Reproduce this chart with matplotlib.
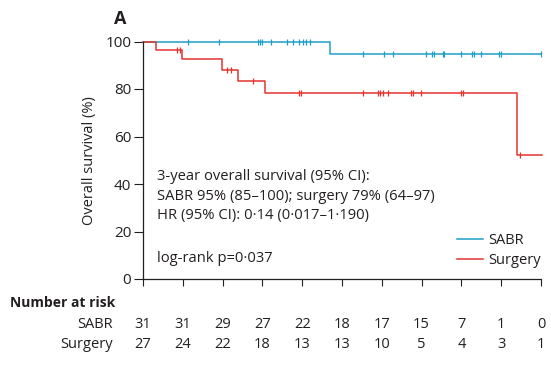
import numpy as np
import matplotlib
matplotlib.use("Agg")
import matplotlib.pyplot as plt

plt.rcParams["font.family"] = ["Open Sans", "DejaVu Sans"]

# --- data (months, survival %) ---------------------------------------------
sabr_t = [0, 28.2, 60.0]
sabr_s = [100, 94.8, 94.8]
sabr_cens = [6.8, 11.5, 17.3, 17.6, 17.9, 19.3, 21.7, 22.6, 23.5, 24.1, 24.6, 25.2,
             33.2, 36.3, 37.7, 42.7, 43.6, 43.9, 45.2, 45.4, 48.0, 49.6, 49.9,
             51.0, 53.7, 54.0, 60.0]

surg_t = [0, 2.0, 5.9, 11.9, 14.3, 18.4, 56.4, 60.1]
surg_s = [100, 96.3, 92.6, 88.0, 83.5, 78.5, 52.3, 52.3]
surg_cens = [5.1, 5.6, 12.7, 13.3, 16.6, 23.5, 23.8, 33.2, 35.4, 35.7, 36.2, 36.9,
             40.4, 40.7, 41.9, 48.0, 48.3, 56.9]

risk_times = [0, 6, 12, 18, 24, 30, 36, 42, 48, 54, 60]
risk_sabr = [31, 31, 29, 27, 22, 18, 17, 15, 7, 1, 0]
risk_surg = [27, 24, 22, 18, 13, 13, 10, 5, 4, 3, 1]

SABR_C = "#1f9ec6"
SURG_C = "#e4332e"
TXT = "#231f20"


def step_at(t, ts, ss):
    i = np.searchsorted(ts, t, side="right") - 1
    return ss[max(i, 0)]


W, H = 551, 367
fig = plt.figure(figsize=(5.51, 3.67), dpi=100)
ax = fig.add_axes([143 / W, 1 - 279 / H, 398 / W, 237.5 / H])

for ts, ss, cens, c, lab in [(sabr_t, sabr_s, sabr_cens, SABR_C, "SABR"),
                             (surg_t, surg_s, surg_cens, SURG_C, "Surgery")]:
    ax.step(ts, ss, where="post", color=c, lw=1.1, label=lab, clip_on=False)
    ys = [step_at(t, ts, ss) for t in cens]
    ax.plot(cens, ys, ls="none", marker="|", ms=5, mew=0.9, color=c, clip_on=False)

ax.set_xlim(0, 60)
ax.set_ylim(0, 100)
ax.set_xticks(risk_times)
ax.set_xticklabels([])
ax.set_yticks([0, 20, 40, 60, 80, 100])
ax.tick_params(axis="y", direction="out", length=6.5, width=0.8, colors=TXT,
               labelsize=11, pad=2)
ax.tick_params(axis="x", direction="out", length=5, width=0.8, colors=TXT)
for s in ["top", "right"]:
    ax.spines[s].set_visible(False)
for s in ["left", "bottom"]:
    ax.spines[s].set_linewidth(0.9)
    ax.spines[s].set_color(TXT)

ax.set_ylabel("Overall survival (%)", fontsize=10.5, color=TXT, labelpad=6)

fig.text(114 / W, 1 - 19 / H, "A", fontsize=13, fontweight="bold", color=TXT,
         va="center")

tk = dict(fontsize=10.6, color=TXT, va="center")
fig.text(157 / W, 1 - 176 / H, "3-year overall survival (95% CI):", **tk)
fig.text(157 / W, 1 - 196 / H, "SABR 95% (85\u2013100); surgery 79% (64\u201397)", **tk)
fig.text(157 / W, 1 - 216 / H, "HR (95% CI): 0\u00b714 (0\u00b7017\u20131\u00b7190)", **tk)
fig.text(157 / W, 1 - 258 / H, "log-rank p=0\u00b7037", **tk)

ax.legend(loc="lower right", bbox_to_anchor=(1.0, 0.045), frameon=False, fontsize=10.5,
          handlelength=1.8, handletextpad=0.35, labelspacing=0.35, borderpad=0,
          borderaxespad=0, labelcolor=TXT)

fig.text(10 / W, 1 - 303 / H, "Number at risk", fontsize=10, fontweight="bold",
         color=TXT, va="center")
trans = matplotlib.transforms.blended_transform_factory(ax.transData, fig.transFigure)
for lab, vals, y in [("SABR", risk_sabr, 324), ("Surgery", risk_surg, 345)]:
    fig.text(113 / W, 1 - y / H, lab, fontsize=10.5, color=TXT, ha="right", va="center")
    for t, v in zip(risk_times, vals):
        ax.text(t, 1 - y / H, str(v), transform=trans, fontsize=10.5, color=TXT,
                ha="center", va="center", clip_on=False)

fig.savefig("out.png", dpi=100)
